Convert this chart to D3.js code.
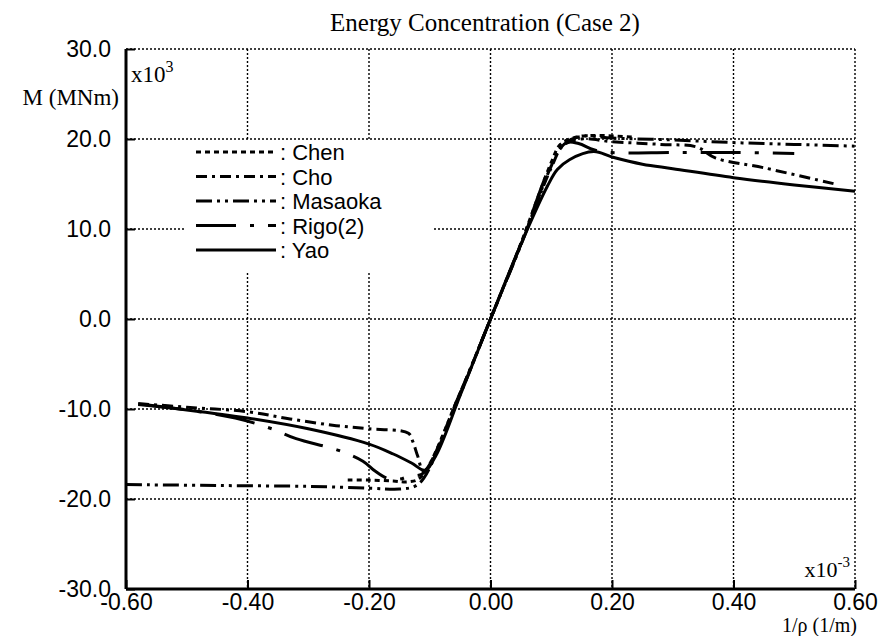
<!doctype html>
<html>
<head>
<meta charset="utf-8">
<script src="https://d3js.org/d3.v7.min.js"></script>
<style>
body { margin: 0; background: #fff; }
</style>
</head>
<body>
<script>
// ---- data (x in 1e-3 1/m, M in 1e3 MNm) ----
var xTicks = [-0.60, -0.40, -0.20, 0.00, 0.20, 0.40, 0.60];
var yTicks = [-30, -20, -10, 0, 10, 20, 30];
var seriesNames = ["Chen", "Cho", "Masaoka", "Rigo(2)", "Yao"];

var chen = [[-0.235,-17.9],[-0.20,-17.9],[-0.16,-18.0],[-0.135,-18.1],[-0.115,-17.6],
  [-0.05,-8.2],[0.00,0.0],[0.05,8.4],[0.10,17.4],[0.115,19.4],[0.14,20.2],[0.17,20.4],[0.235,20.2]];
var cho = [[-0.58,-9.4],[-0.50,-9.8],[-0.40,-10.3],[-0.33,-11.1],[-0.26,-11.8],[-0.20,-12.2],[-0.135,-12.7],
  [-0.128,-13.6],[-0.12,-15.2],[-0.11,-16.9],[-0.05,-8.2],[0.00,0.0],[0.05,8.3],[0.10,16.8],[0.12,19.3],
  [0.15,20.0],[0.20,19.7],[0.28,19.4],[0.34,19.1],[0.37,17.9],[0.45,16.8],[0.567,15.0]];
var masaoka = [[-0.60,-18.4],[-0.45,-18.5],[-0.30,-18.6],[-0.20,-18.8],[-0.15,-18.9],[-0.125,-18.6],
  [-0.11,-17.7],[-0.05,-8.4],[0.00,0.0],[0.05,8.2],[0.10,17.0],[0.12,19.4],[0.15,20.3],[0.20,20.1],
  [0.30,19.9],[0.40,19.6],[0.50,19.4],[0.60,19.2]];
var rigo = [[-0.57,-9.5],[-0.50,-10.1],[-0.42,-11.0],[-0.36,-12.2],[-0.32,-13.3],[-0.25,-14.6],[-0.21,-15.8],
  [-0.19,-16.9],[-0.17,-17.7],[-0.15,-17.8],[-0.135,-17.5],[-0.11,-17.1],[-0.05,-8.3],[0.00,0.0],
  [0.05,8.3],[0.10,17.2],[0.125,19.6],[0.145,19.5],[0.17,18.8],[0.20,18.5],[0.30,18.5],[0.40,18.5],[0.50,18.4]];
var yao = [[-0.58,-9.5],[-0.50,-10.1],[-0.40,-11.0],[-0.30,-12.2],[-0.20,-13.9],[-0.16,-15.0],[-0.13,-16.0],
  [-0.108,-16.8],[-0.09,-15.2],[-0.05,-8.5],[0.00,0.0],[0.05,8.3],[0.094,14.8],[0.11,16.6],[0.13,17.7],
  [0.17,18.6],[0.20,18.0],[0.25,17.2],[0.30,16.7],[0.40,15.7],[0.50,14.9],[0.60,14.2]];

var seriesData = [chen, cho, masaoka, rigo, yao];
var dashes = ["5,4", "11,5,3,5", "16,5,3,5,3,5", "40,14,4,14", null];

// ---- layout ----
var width = 883, height = 636;
var pLeft = 126, pRight = 855, pTop = 49, pBottom = 589;
var sans = "Liberation Sans, Arial, sans-serif";
var serif = "Liberation Serif, Times New Roman, serif";

var svg = d3.select("body").append("svg")
  .attr("width", width).attr("height", height);

var x = d3.scaleLinear().domain([-0.6, 0.6]).range([pLeft, pRight]);
var y = d3.scaleLinear().domain([-30, 30]).range([pBottom, pTop]);

// hyphen minus like the scan
function fmt(p) {
  var f = d3.format("." + p + "f");
  return function(v) { return f(v).replace("\u2212", "-"); };
}

// grid (dotted), incl. top and right border
var grid = svg.append("g").attr("stroke", "#000").attr("stroke-width", 1.4)
  .attr("stroke-dasharray", "2,2").attr("fill", "none");
xTicks.slice(1).forEach(function(t) {
  grid.append("line").attr("x1", x(t)).attr("x2", x(t)).attr("y1", pTop).attr("y2", pBottom);
});
yTicks.slice(1).forEach(function(t) {
  grid.append("line").attr("x1", pLeft).attr("x2", pRight).attr("y1", y(t)).attr("y2", y(t));
});

// axes (solid left/bottom) with short inner ticks
var xAxis = svg.append("g").attr("transform", "translate(0," + pBottom + ")")
  .call(d3.axisBottom(x).tickValues(xTicks).tickSize(-9).tickPadding(5).tickFormat(fmt(2)));
var yAxis = svg.append("g").attr("transform", "translate(" + pLeft + ",0)")
  .call(d3.axisLeft(y).tickValues(yTicks).tickSize(-9).tickPadding(12).tickFormat(fmt(1)));
[xAxis, yAxis].forEach(function(a) {
  a.select(".domain").attr("stroke-width", 3);
  a.selectAll(".tick line").attr("stroke-width", 2);
  a.selectAll("text").attr("font-family", sans)
    .attr("font-size", 23).attr("fill", "#000");
});
xAxis.select(".domain").attr("d", "M" + pLeft + ",0H" + pRight);
yAxis.select(".domain").attr("d", "M0," + pTop + "V" + pBottom);
yAxis.selectAll(".tick text").attr("x", -15);

// series
var line = d3.line()
  .x(function(d) { return x(d[0]); })
  .y(function(d) { return y(d[1]); })
  .curve(d3.curveCatmullRom.alpha(0.5));

svg.append("g").selectAll("path")
  .data(seriesData)
  .enter().append("path")
  .attr("d", line)
  .attr("fill", "none")
  .attr("stroke", "#000")
  .attr("stroke-width", 3)
  .attr("stroke-dasharray", function(d, i) { return dashes[i]; });

// legend, white box hides the grid behind it
var lg = svg.append("g");
lg.append("rect").attr("x", 186).attr("y", 140).attr("width", 246).attr("height", 132)
  .attr("fill", "#fff");
seriesNames.forEach(function(n, i) {
  var yy = 152 + i * 24.5;
  lg.append("line").attr("x1", 196).attr("x2", 276).attr("y1", yy).attr("y2", yy)
    .attr("stroke", "#000").attr("stroke-width", 2.8).attr("stroke-dasharray", dashes[i]);
  lg.append("text").attr("x", 280).attr("y", yy + 8)
    .attr("font-family", sans).attr("font-size", 22)
    .text(": " + n);
});

// texts
svg.append("text").attr("x", 485).attr("y", 31).attr("text-anchor", "middle")
  .attr("font-family", serif).attr("font-size", 25).text("Energy Concentration (Case 2)");
svg.append("text").attr("x", 119).attr("y", 105).attr("text-anchor", "end")
  .attr("font-family", serif).attr("font-size", 23).text("M (MNm)");
var e3 = svg.append("text").attr("x", 131).attr("y", 82)
  .attr("font-family", serif).attr("font-size", 23);
e3.append("tspan").text("x10");
e3.append("tspan").attr("dy", -10).attr("font-size", 16).text("3");
var em3 = svg.append("text").attr("x", 850).attr("y", 577).attr("text-anchor", "end")
  .attr("font-family", serif).attr("font-size", 22);
em3.append("tspan").text("x10");
em3.append("tspan").attr("dy", -10).attr("font-size", 15).text("-3");
svg.append("text").attr("x", 857).attr("y", 632).attr("text-anchor", "end")
  .attr("font-family", serif).attr("font-size", 20).text("1/\u03c1 (1/m)");
</script>
</body>
</html>
